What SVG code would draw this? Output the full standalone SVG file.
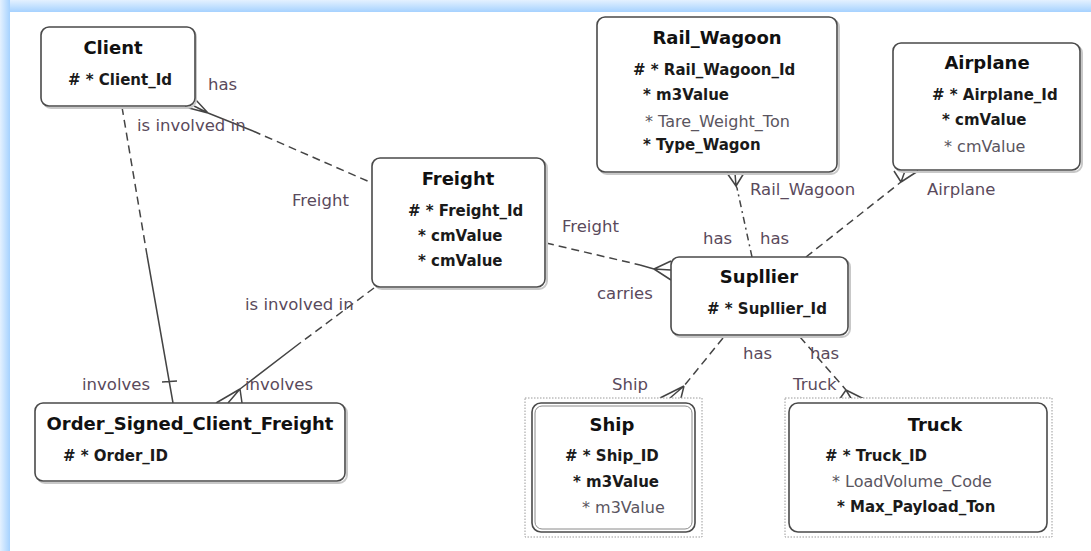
<svg xmlns="http://www.w3.org/2000/svg" width="1091" height="551" viewBox="0 0 1091 551">
<style>
.box{fill:#fff;stroke:#4a4a4a;stroke-width:1.6}
.shadow{fill:none;stroke:#c8c8c8;stroke-width:2}
.dotted{fill:#fff;stroke:#9a9a9a;stroke-width:1;stroke-dasharray:1.5 1.5}
.inner{fill:none;stroke:#8a8a8a;stroke-width:1}
.title{font-family:"DejaVu Sans",sans-serif;font-weight:bold;font-size:18px;fill:#111;text-anchor:middle}
.pk{font-family:"DejaVu Sans",sans-serif;font-weight:bold;font-size:15px;fill:#1a1a1a}
.opt{font-family:"DejaVu Sans",sans-serif;font-size:16px;fill:#5a5560}
.lbl{font-family:"DejaVu Sans",sans-serif;font-size:16.5px;fill:#5a4a5c}
.dash{fill:none;stroke:#444;stroke-width:1.5;stroke-dasharray:8 5}
.solid{fill:none;stroke:#444;stroke-width:1.5}
</style>
<defs>
<linearGradient id="gTop" x1="0" y1="0" x2="0" y2="1"><stop offset="0" stop-color="#e4f1ff"/><stop offset="1" stop-color="#a6d2ff"/></linearGradient>
<linearGradient id="gLeft" x1="0" y1="0" x2="1" y2="0"><stop offset="0" stop-color="#e4f1ff"/><stop offset="1" stop-color="#a6d2ff"/></linearGradient>
</defs>
<rect width="1091" height="551" fill="#fff"/>
<rect x="0" y="0" width="1091" height="12" fill="url(#gTop)"/>
<rect x="0" y="0" width="10" height="551" fill="url(#gLeft)"/>

<g id="connectors">
  <!-- Client - Freight -->
  <path class="solid" d="M208,113 L253,131"/>
  <path class="dash" d="M253,131 L372,183"/>
  <path class="solid" d="M208,113 L185,107 M208,113 L194,106 M208,113 L195,99"/>
  <!-- Client - Order -->
  <path class="dash" d="M122,107 L147,255"/>
  <path class="solid" d="M147,255 L173,403 M162,382 L177,381"/>
  <!-- Freight - Order -->
  <path class="dash" d="M374,288 L300,343"/>
  <path class="solid" d="M300,343 L240,389 M240,389 L216,403 M240,389 L228,403 M240,389 L242,403"/>
  <!-- Freight - Suplier -->
  <path class="dash" d="M546,243 L640,265"/>
  <path class="solid" d="M640,265 L654,269 M654,269 L671,261 M654,269 L671,270 M654,269 L671,280"/>
  <!-- Rail_Wagoon - Suplier -->
  <path class="dash" d="M752,257 L737,188" style="stroke-dasharray:7 4 2 4"/>
  <path class="solid" d="M737,188 L736,186 M736,186 L727,173 M736,186 L735,173 M736,186 L744,173"/>
  <!-- Airplane - Suplier -->
  <path class="dash" d="M806,257 L901,182"/>
  <path class="solid" d="M901,182 L894,171 M901,182 L905,171 M901,182 L918,171"/>
  <!-- Suplier - Ship -->
  <path class="dash" d="M723,338 L684,386"/>
  <path class="solid" d="M684,386 L660,398 M684,386 L670,398 M684,386 L681,398"/>
  <!-- Suplier - Truck -->
  <path class="dash" d="M800,337 L846,390"/>
  <path class="solid" d="M846,390 L839,400 M846,390 L852,400 M846,390 L866,400"/>

  <text class="lbl" x="208" y="90">has</text>
  <text class="lbl" x="137" y="131">is involved in</text>
  <text class="lbl" x="292" y="206">Freight</text>
  <text class="lbl" x="562" y="232">Freight</text>
  <text class="lbl" x="597" y="299">carries</text>
  <text class="lbl" x="245" y="310">is involved in</text>
  <text class="lbl" x="82" y="390">involves</text>
  <text class="lbl" x="245" y="390">involves</text>
  <text class="lbl" x="750" y="195">Rail_Wagoon</text>
  <text class="lbl" x="927" y="195">Airplane</text>
  <text class="lbl" x="703" y="244">has</text>
  <text class="lbl" x="760" y="244">has</text>
  <text class="lbl" x="743" y="359">has</text>
  <text class="lbl" x="810" y="359">has</text>
  <text class="lbl" x="612" y="390">Ship</text>
  <text class="lbl" x="793" y="390">Truck</text>
</g>

<g id="client">
  <rect class="shadow" x="43" y="29" width="153" height="79" rx="8"/>
  <rect class="box" x="41" y="27" width="154" height="79" rx="8"/>
  <text class="title" x="113" y="54">Client</text>
  <text class="pk" x="68" y="85"># * Client_Id</text>
</g>

<g id="freight">
  <rect class="shadow" x="374" y="160" width="173" height="129" rx="8"/>
  <rect class="box" x="372" y="158" width="173" height="129" rx="8"/>
  <text class="title" x="458" y="185">Freight</text>
  <text class="pk" x="408" y="216"># * Freight_Id</text>
  <text class="pk" x="418" y="241">* cmValue</text>
  <text class="pk" x="418" y="266">* cmValue</text>
</g>

<g id="rail_wagoon">
  <rect class="shadow" x="599" y="19" width="240" height="155" rx="8"/>
  <rect class="box" x="597" y="17" width="240" height="155" rx="8"/>
  <text class="title" x="717" y="44">Rail_Wagoon</text>
  <text class="pk" x="633" y="75"># * Rail_Wagoon_Id</text>
  <text class="pk" x="643" y="100">* m3Value</text>
  <text class="opt" x="645" y="127">* Tare_Weight_Ton</text>
  <text class="pk" x="643" y="150">* Type_Wagon</text>
</g>

<g id="airplane">
  <rect class="shadow" x="895" y="45" width="187" height="127" rx="8"/>
  <rect class="box" x="893" y="43" width="187" height="127" rx="8"/>
  <text class="title" x="987" y="69">Airplane</text>
  <text class="pk" x="932" y="100"># * Airplane_Id</text>
  <text class="pk" x="942" y="125">* cmValue</text>
  <text class="opt" x="944" y="152">* cmValue</text>
</g>

<g id="suplier">
  <rect class="shadow" x="673" y="259" width="177" height="78" rx="8"/>
  <rect class="box" x="671" y="257" width="177" height="78" rx="8"/>
  <text class="title" x="759" y="283">Supllier</text>
  <text class="pk" x="707" y="314"># * Supllier_Id</text>
</g>

<g id="order_signed_client_freight">
  <rect class="shadow" x="37" y="405" width="310" height="78" rx="8"/>
  <rect class="box" x="35" y="403" width="310" height="78" rx="8"/>
  <text class="title" x="190" y="430">Order_Signed_Client_Freight</text>
  <text class="pk" x="63" y="461"># * Order_ID</text>
</g>

<g id="ship">
  <rect class="dotted" x="525" y="398" width="177" height="139"/>
  <rect class="box" x="532" y="403" width="163" height="129" rx="9"/>
  <rect class="inner" x="535" y="406" width="157" height="123" rx="7"/>
  <text class="title" x="612" y="431">Ship</text>
  <text class="pk" x="565" y="461"># * Ship_ID</text>
  <text class="pk" x="573" y="487">* m3Value</text>
  <text class="opt" x="582" y="513">* m3Value</text>
</g>

<g id="truck">
  <rect class="dotted" x="785" y="398" width="267" height="139"/>
  <rect class="box" x="789" y="403" width="258" height="129" rx="9"/>
  <text class="title" x="935" y="431">Truck</text>
  <text class="pk" x="825" y="461"># * Truck_ID</text>
  <text class="opt" x="832" y="487">* LoadVolume_Code</text>
  <text class="pk" x="837" y="512">* Max_Payload_Ton</text>
</g>
</svg>
